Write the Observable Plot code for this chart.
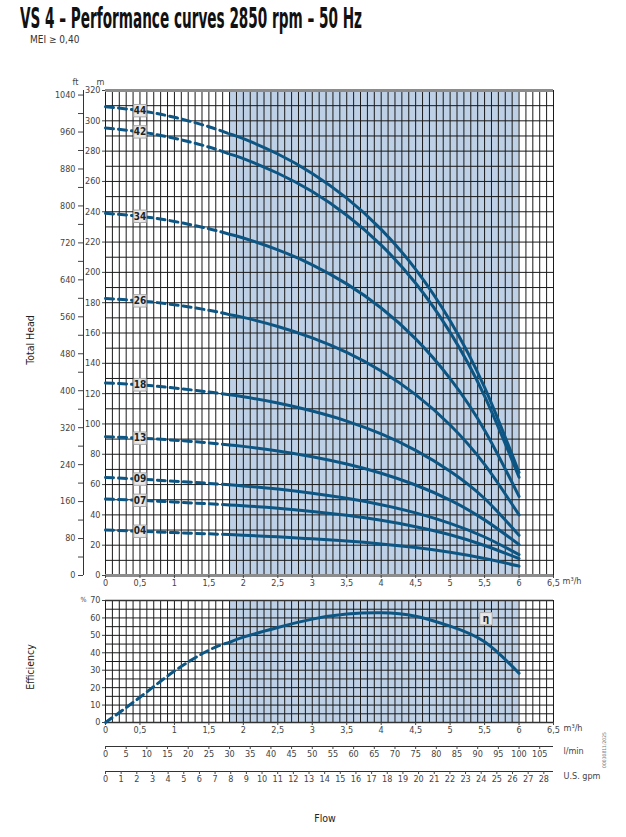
<!DOCTYPE html>
<html><head><meta charset="utf-8">
<script src="https://cdn.jsdelivr.net/npm/d3@7"></script>
<script src="https://cdn.jsdelivr.net/npm/@observablehq/plot@0.6"></script>
<style>
body{margin:0;background:#fff;}
#page{position:relative;width:626px;height:837px;overflow:hidden;font-family:"Liberation Sans Narrow","DejaVu Sans Condensed","Roboto Condensed","Liberation Sans",sans-serif;color:#222;}
.abs{position:absolute;white-space:nowrap;}
#title{left:20px;top:1px;font-size:29px;font-weight:bold;color:#111;transform-origin:0 0;display:inline-block;}
#subtitle{left:30px;top:34px;font-size:10px;color:#333;}
.rot{transform:translate(-50%,-50%) rotate(-90deg);font-size:10.5px;color:#222;}
#code{font-size:5px;color:#777;}
#plotTop{position:absolute;left:0;top:60px;}
#plotBottom{position:absolute;left:0;top:590px;}
</style></head>
<body><div id="page">
<span id="title" class="abs">VS 4 – Performance curves 2850 rpm – 50 Hz</span>
<span id="subtitle" class="abs">MEI ≥ 0,40</span>
<div id="plotTop"></div>
<div id="plotBottom"></div>
<span class="abs rot" style="left:30px;top:340px;">Total Head</span>
<span class="abs rot" style="left:30px;top:667px;">Efficiency</span>
<span class="abs" style="left:325px;top:818px;transform:translate(-50%,-50%);font-size:10.5px;">Flow</span>
<span id="code" class="abs rot" style="left:604px;top:750px;">00030811/2025</span>
</div>
<script>
// ---- data ----
const flowQ   = [0, 0.5, 1, 1.5, 1.8, 2, 2.5, 3, 3.5, 4, 4.5, 5, 5.5, 6];
const head44  = [309.3, 306.7, 302.3, 296.1, 291.3, 288.2, 278.1, 265.3, 249.0, 228.4, 202.0, 168.1, 124.1, 68.0];
const head42  = [295.3, 292.7, 288.5, 282.7, 278.0, 275.1, 265.4, 253.3, 237.7, 218.0, 192.8, 160.4, 118.4, 64.8];
const head34  = [239.0, 237.0, 233.6, 228.8, 225.1, 222.7, 214.9, 205.0, 192.4, 176.5, 156.1, 129.9, 95.9, 52.2];
const head26  = [182.8, 181.2, 178.6, 175.0, 172.1, 170.3, 164.3, 156.8, 147.2, 134.9, 119.3, 99.3, 73.3, 40.0];
const head18  = [127.0, 125.8, 123.7, 121.1, 119.2, 117.9, 113.8, 108.5, 101.9, 93.4, 82.6, 68.8, 50.8, 26.5];
const head13  = [91.6, 90.6, 89.3, 87.5, 86.1, 85.2, 82.2, 78.4, 73.6, 67.5, 59.7, 49.7, 36.7, 20.4];
const head09  = [64.7, 63.6, 62.2, 60.8, 59.8, 59.1, 57.0, 54.3, 50.9, 46.7, 41.3, 34.4, 25.4, 13.8];
const head07  = [50.4, 49.6, 48.5, 47.3, 46.5, 46.0, 44.4, 42.3, 39.7, 36.4, 32.2, 26.9, 19.8, 11.2];
const head04  = [30.0, 29.2, 28.3, 27.5, 27.0, 26.6, 25.5, 24.2, 22.7, 20.8, 18.4, 15.3, 11.2, 6.2];
const curveNames = ["44", "42", "34", "26", "18", "13", "09", "07", "04"];
const curveHeads = [head44, head42, head34, head26, head18, head13, head09, head07, head04];
const efficiency = [0, 14.5, 29.5, 41.5, 46, 49, 54.5, 59.3, 62.2, 63, 61, 55.3, 46.3, 28.3];
const recommendedRange = [1.8, 6.0];   // shaded operating range (m³/h)
const labelFlow = 0.5;                  // where the curve labels sit
const etaLabel = {q: 5.52, v: 59.5, text: "η"};

// ticks
const flowTicks = [0, 0.5, 1, 1.5, 2, 2.5, 3, 3.5, 4, 4.5, 5, 5.5, 6, 6.5];
const headTicksM = [0, 20, 40, 60, 80, 100, 120, 140, 160, 180, 200, 220, 240, 260, 280, 300, 320];
const headTicksFt = [0, 40, 80, 120, 160, 200, 240, 280, 320, 360, 400, 440, 480, 520, 560, 600, 640, 680, 720, 760, 800, 840, 880, 920, 960, 1000, 1040];
const effTicks = [0, 10, 20, 30, 40, 50, 60, 70];
const lpmTicks = [0, 5, 10, 15, 20, 25, 30, 35, 40, 45, 50, 55, 60, 65, 70, 75, 80, 85, 90, 95, 100, 105];
const gpmTicks = [0, 1, 2, 3, 4, 5, 6, 7, 8, 9, 10, 11, 12, 13, 14, 15, 16, 17, 18, 19, 20, 21, 22, 23, 24, 25, 26, 27, 28];

const FT_PER_M = 3.28084, LPM_PER_M3H = 1000 / 60, GPM_PER_M3H = 4.402868;
const FONT = '"Liberation Sans Narrow","DejaVu Sans Condensed","Roboto Condensed","Liberation Sans",sans-serif';
const CURVE = "#0d5684", SHADE = "#bdd0e5", GRID = "#1a1a1a";
const fmt = d => String(d).replace(".", ",");

// grid positions
const gridQ = d3.range(0, 66).map(i => i / 10);
const gridH = d3.range(0, 33).map(i => i * 10);
const gridE = d3.range(0, 15).map(i => i * 5);

// rows
const rows = [];
curveNames.forEach((name, k) => flowQ.forEach((q, i) => rows.push({curve: name, q, h: curveHeads[k][i]})));
const dashRows = rows.filter(d => d.q <= recommendedRange[0]);
const solidRows = rows.filter(d => d.q >= recommendedRange[0]);
const labelRows = curveNames.map((name, k) => ({curve: name, q: labelFlow, h: curveHeads[k][flowQ.indexOf(labelFlow)]}));
const effRows = flowQ.map((q, i) => ({q, v: efficiency[i]}));
const shadeRows = [{a: recommendedRange[0], b: recommendedRange[1]}];

const topPlot = Plot.plot({
  width: 626, height: 540,
  marginTop: 30, marginBottom: 25, marginLeft: 105, marginRight: 73,
  x: {domain: [0, 6.5]}, y: {domain: [0, 320]},
  style: {fontFamily: FONT, fontSize: "9px", color: "#444", background: "transparent", overflow: "visible"},
  marks: [
    Plot.rect(shadeRows, {x1: "a", x2: "b", fill: SHADE}),
    Plot.ruleX(gridQ, {stroke: GRID, strokeWidth: 1}),
    Plot.ruleY(gridH, {stroke: GRID, strokeWidth: 1}),
    Plot.ruleY([0, 320], {stroke: "#8c8c8c", strokeWidth: 3}),
    Plot.axisX({ticks: flowTicks, tickFormat: fmt, tickSize: 3, tickPadding: 1, label: null}),
    Plot.axisY({ticks: headTicksM, tickSize: 3, tickPadding: 2, label: null}),
    Plot.axisY({ticks: headTicksFt.map(f => f / FT_PER_M), tickFormat: d => { const f = Math.round(d * FT_PER_M); return f % 80 === 0 ? String(f) : ""; }, tickSize: 5, tickPadding: 3, dx: -22, label: null}),
    Plot.ruleX([0], {dx: -22, stroke: "#333", strokeWidth: 1}),
    Plot.text(["m"], {frameAnchor: "top-left", dx: -9, dy: -12, fontSize: 9, fill: "#444"}),
    Plot.text(["ft"], {frameAnchor: "top-left", dx: -33, dy: -12, fontSize: 9, fill: "#444"}),
    Plot.text(["m³/h"], {frameAnchor: "bottom-right", textAnchor: "start", dx: 9, dy: 8, fontSize: 9, fill: "#444"}),
    Plot.line(dashRows, {x: "q", y: "h", z: "curve", stroke: CURVE, strokeWidth: 3, strokeDasharray: "8,5", curve: "natural"}),
    Plot.line(solidRows, {x: "q", y: "h", z: "curve", stroke: CURVE, strokeWidth: 3, curve: "natural"}),
    Plot.dot(labelRows, {x: "q", y: "h", symbol: "square", r: 7, fill: "#e8e8e8", stroke: "#aaa", strokeWidth: 1}),
    Plot.text(labelRows, {x: "q", y: "h", text: "curve", fontSize: 10, fontWeight: "bold", fill: "#222"})
  ]
});
document.getElementById("plotTop").appendChild(topPlot);

const bottomPlot = Plot.plot({
  width: 626, height: 202,
  marginTop: 10, marginBottom: 70, marginLeft: 105, marginRight: 73,
  x: {domain: [0, 6.5]}, y: {domain: [0, 70]},
  style: {fontFamily: FONT, fontSize: "9px", color: "#444", background: "transparent", overflow: "visible"},
  marks: [
    Plot.rect(shadeRows, {x1: "a", x2: "b", fill: SHADE}),
    Plot.ruleX(gridQ, {stroke: GRID, strokeWidth: 1}),
    Plot.ruleY(gridE, {stroke: GRID, strokeWidth: 1}),
    Plot.ruleY([0, 70], {stroke: "#333", strokeWidth: 1.5}),
    Plot.axisX({ticks: flowTicks, tickFormat: fmt, tickSize: 3, tickPadding: 1, label: null}),
    Plot.axisY({ticks: effTicks, tickSize: 3, tickPadding: 2, label: null}),
    Plot.text(["%"], {frameAnchor: "top-left", dx: -25, dy: -3, fontSize: 7, fill: "#444"}),
    Plot.text(["m³/h"], {frameAnchor: "bottom-right", textAnchor: "start", dx: 10, dy: 8, fontSize: 9, fill: "#444"}),
    Plot.ruleY([0], {dy: 24, stroke: "#333", strokeWidth: 1}),
    Plot.axisX({ticks: lpmTicks.map(v => v / LPM_PER_M3H), tickFormat: d => String(Math.round(d * LPM_PER_M3H)), tickSize: 3, tickPadding: 1, dy: 24, label: null}),
    Plot.text(["l/min"], {frameAnchor: "bottom-right", textAnchor: "start", dx: 10, dy: 31, fontSize: 9, fill: "#444"}),
    Plot.ruleY([0], {dy: 49, stroke: "#333", strokeWidth: 1}),
    Plot.axisX({ticks: gpmTicks.map(v => v / GPM_PER_M3H), tickFormat: d => String(Math.round(d * GPM_PER_M3H)), tickSize: 3, tickPadding: 1, dy: 49, label: null}),
    Plot.text(["U.S. gpm"], {frameAnchor: "bottom-right", textAnchor: "start", dx: 10, dy: 56, fontSize: 9, fill: "#444"}),
    Plot.line(effRows.filter(d => d.q <= recommendedRange[0]), {x: "q", y: "v", stroke: CURVE, strokeWidth: 3, strokeDasharray: "8,5", curve: "natural"}),
    Plot.line(effRows.filter(d => d.q >= recommendedRange[0]), {x: "q", y: "v", stroke: CURVE, strokeWidth: 3, curve: "natural"}),
    Plot.dot([etaLabel], {x: "q", y: "v", symbol: "square", r: 7, fill: "#e8e8e8", stroke: "#aaa", strokeWidth: 1}),
    Plot.text([etaLabel], {x: "q", y: "v", text: "text", fontSize: 10, fontWeight: "bold", fill: "#222"})
  ]
});
document.getElementById("plotBottom").appendChild(bottomPlot);

// fit the condensed title to the reference width
const t = document.getElementById("title");
const w = t.getBoundingClientRect().width;
if (w > 0) t.style.transform = `scaleX(${342 / w})`;
</script>
</body></html>
